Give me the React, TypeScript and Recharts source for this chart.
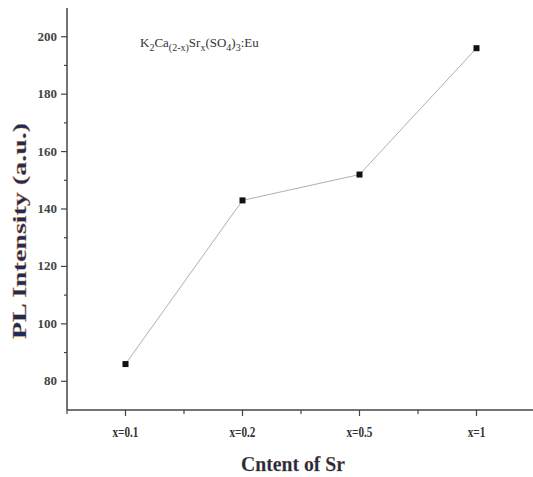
import React from "react";
import { LineChart, Line, XAxis, YAxis, Label } from "recharts";

const categories = ["x=0.1", "x=0.2", "x=0.5", "x=1"];
const intensity = [86, 143, 152, 196];
const yTicks = [80, 90, 100, 110, 120, 130, 140, 150, 160, 170, 180, 190, 200];
const yMajor = [80, 100, 120, 140, 160, 180, 200];

const data = categories.map((c, i) => ({ name: c, value: intensity[i] }));

const W = 540;
const H = 477;
const M = { top: 8, right: 5, left: 0, bottom: 7 };
const Y_W = 67;
const X_H = 60;
const PLOT_W = W - M.left - M.right - Y_W;
const BAND = PLOT_W / categories.length;
const SERIF = "'Liberation Serif', 'DejaVu Serif', serif";
const AXIS = "#444";

const XTick = (props: any) => {
  const { x, y, payload } = props;
  return (
    <g>
      <line x1={x} x2={x} y1={y - 8} y2={y - 2} stroke={AXIS} strokeWidth={1.2} />
      <line x1={x + BAND / 2} x2={x + BAND / 2} y1={y - 8} y2={y - 4} stroke={AXIS} strokeWidth={1.2} />
      {payload.index === 0 && (
        <line x1={x - BAND / 2} x2={x - BAND / 2} y1={y - 8} y2={y - 4} stroke={AXIS} strokeWidth={1.2} />
      )}
      <text
        x={x}
        y={y + 19}
        textAnchor="middle"
        fontFamily={SERIF}
        fontSize={14}
        fontWeight="bold"
        fill="#333"
        transform={`translate(${x} 0) scale(0.8 1) translate(${-x} 0)`}
      >
        {payload.value}
      </text>
    </g>
  );
};

const YTick = (props: any) => {
  const { x, y, payload } = props;
  const major = yMajor.includes(payload.value);
  const ax = x + 8;
  return (
    <g>
      <line x1={ax - (major ? 6 : 3)} x2={ax} y1={y} y2={y} stroke={AXIS} strokeWidth={1.2} />
      {major && (
        <text x={ax - 10} y={y + 4} textAnchor="end" fontFamily={SERIF} fontSize={13} fontWeight="bold" fill="#444">
          {payload.value}
        </text>
      )}
    </g>
  );
};

const YLabel = (props: any) => {
  const vb = props.viewBox || {};
  const cx = 19;
  const cy = (vb.y ?? 8) + (vb.height ?? 400) / 2 + 22;
  return (
    <text
      x={cx}
      y={cy}
      transform={`rotate(-90 ${cx} ${cy})`}
      textAnchor="middle"
      dominantBaseline="central"
      fontFamily={SERIF}
      fontSize={19}
      fontWeight="bold"
      fill="#1c2a5c"
      stroke="#d08a30"
      strokeWidth={0.3}
      textLength={216}
      lengthAdjust="spacingAndGlyphs"
    >
      PL Intensity (a.u.)
    </text>
  );
};

const XLabel = (props: any) => {
  const vb = props.viewBox || {};
  const cx = (vb.x ?? 67) + (vb.width ?? 468) / 2 - 8;
  const by = (vb.y ?? 410) + (vb.height ?? 60) + 1;
  return (
    <text
      x={cx}
      y={by}
      textAnchor="middle"
      fontFamily={SERIF}
      fontSize={22}
      fontWeight="bold"
      fill="#1c2a4c"
      stroke="#c08030"
      strokeWidth={0.25}
      textLength={104}
      lengthAdjust="spacingAndGlyphs"
    >
      Cntent of Sr
    </text>
  );
};

const Square = (props: any) => {
  const { cx, cy } = props;
  return <rect x={cx - 3} y={cy - 3} width={6} height={6} fill="#111" />;
};

export default function App() {
  return (
    <div style={{ position: "absolute", left: 0, top: 0, width: 533, height: 477, overflow: "hidden", background: "#fff" }}>
      <LineChart width={W} height={H} data={data} margin={M}>
        <XAxis
          dataKey="name"
          scale="band"
          axisLine={{ stroke: AXIS, strokeWidth: 1.5 }}
          tickLine={false}
          tick={<XTick />}
          interval={0}
          height={X_H}
        >
          <Label content={<XLabel />} />
        </XAxis>
        <YAxis
          domain={[70, 210]}
          ticks={yTicks}
          interval={0}
          width={Y_W}
          axisLine={{ stroke: AXIS, strokeWidth: 1.5 }}
          tickLine={false}
          tick={<YTick />}
        >
          <Label content={<YLabel />} />
        </YAxis>
        <Line
          type="linear"
          dataKey="value"
          stroke="#b0b0b0"
          strokeWidth={1}
          dot={<Square />}
          activeDot={false}
          isAnimationActive={false}
        />
      </LineChart>
      <div
        style={{
          position: "absolute",
          left: 140,
          top: 35,
          fontFamily: SERIF,
          fontSize: 13,
          color: "#333",
          whiteSpace: "nowrap",
          lineHeight: "16px",
        }}
      >
        K<sub style={{ fontSize: 10 }}>2</sub>Ca<sub style={{ fontSize: 10 }}>(2-x)</sub>Sr<sub style={{ fontSize: 10 }}>x</sub>(SO<sub style={{ fontSize: 10 }}>4</sub>)<sub style={{ fontSize: 10 }}>3</sub>:Eu
      </div>
    </div>
  );
}
